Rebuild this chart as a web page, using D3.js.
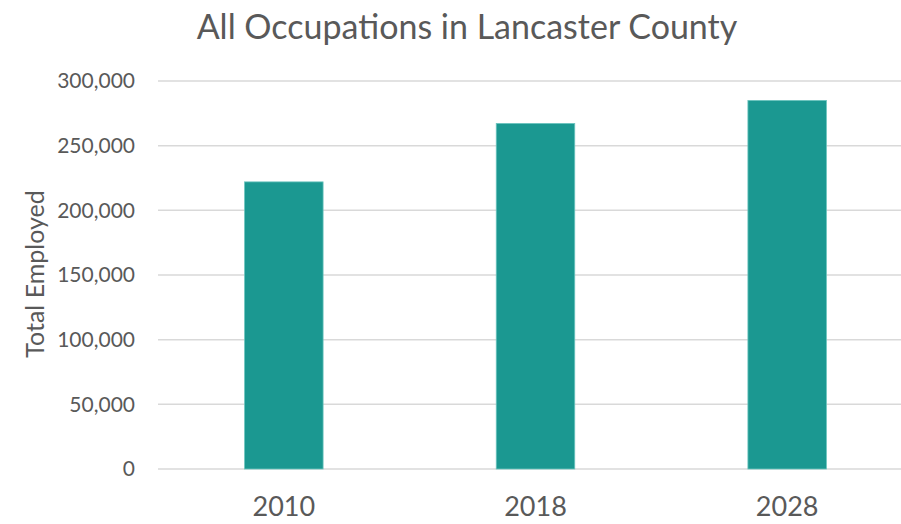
<!DOCTYPE html>
<html>
<head>
<meta charset="utf-8">
<script src="https://cdn.jsdelivr.net/npm/d3@7"></script>
<style>
  html, body { margin: 0; background: #fff; overflow: hidden; }
  svg { display: block; }
  text { font-family: Lato, "Open Sans", sans-serif; fill: #595959; }
</style>
</head>
<body>
<script>
// chart data
var years = ["2010", "2018", "2028"];
var employed = [222000, 267200, 285000];
var yTicks = [0, 50000, 100000, 150000, 200000, 250000, 300000];

var svgWidth = 901;
var svgHeight = 524;

var margin = { top: 81, right: -12, bottom: 55, left: 158 };
var chartWidth = svgWidth - margin.left - margin.right;
var chartHeight = svgHeight - margin.top - margin.bottom;

var svg = d3.select("body")
  .append("svg")
  .attr("width", svgWidth)
  .attr("height", svgHeight);

var chartGroup = svg.append("g")
  .attr("transform", `translate(${margin.left}, ${margin.top})`);

var xBandScale = d3.scaleBand()
  .domain(years)
  .range([0, chartWidth])
  .paddingInner(0.688)
  .paddingOuter(0.344);

var yLinearScale = d3.scaleLinear()
  .domain([0, 300000])
  .range([chartHeight, 0]);

// gridlines, running off the right edge like the original
chartGroup.selectAll(".grid")
  .data(yTicks)
  .enter()
  .append("line")
  .attr("x1", 0)
  .attr("x2", svgWidth)
  .attr("y1", d => yLinearScale(d))
  .attr("y2", d => yLinearScale(d))
  .attr("stroke", "#d9d9d9")
  .attr("stroke-width", 1.5);

// y tick labels
var leftAxis = d3.axisLeft(yLinearScale)
  .tickValues(yTicks)
  .tickFormat(d3.format(","))
  .tickSize(0)
  .tickPadding(23);

chartGroup.append("g")
  .call(leftAxis)
  .call(g => g.select(".domain").remove())
  .selectAll("text")
  .style("font-size", "21px")
  .attr("fill", "#595959");

// bars
chartGroup.selectAll(".bar")
  .data(employed)
  .enter()
  .append("rect")
  .attr("class", "bar")
  .attr("x", (d, i) => xBandScale(years[i]))
  .attr("y", d => yLinearScale(d))
  .attr("width", xBandScale.bandwidth())
  .attr("height", d => chartHeight - yLinearScale(d))
  .attr("fill", "#1b9891")
  .attr("stroke", "#6cc5bf")
  .attr("stroke-width", 0.8);

// x labels
var bottomAxis = d3.axisBottom(xBandScale).tickSize(0).tickPadding(28);
chartGroup.append("g")
  .attr("transform", `translate(0, ${chartHeight})`)
  .call(bottomAxis)
  .call(g => g.select(".domain").remove())
  .selectAll("text")
  .style("font-size", "27px")
  .attr("fill", "#595959");

// title
svg.append("text")
  .attr("x", 467)
  .attr("y", 39)
  .attr("text-anchor", "middle")
  .style("font-size", "34px")
  .text("All Occupations in Lancaster County");

// y axis title
svg.append("text")
  .attr("transform", "rotate(-90)")
  .attr("x", -274)
  .attr("y", 44)
  .attr("text-anchor", "middle")
  .style("font-size", "25px")
  .text("Total Employed");
</script>
</body>
</html>
